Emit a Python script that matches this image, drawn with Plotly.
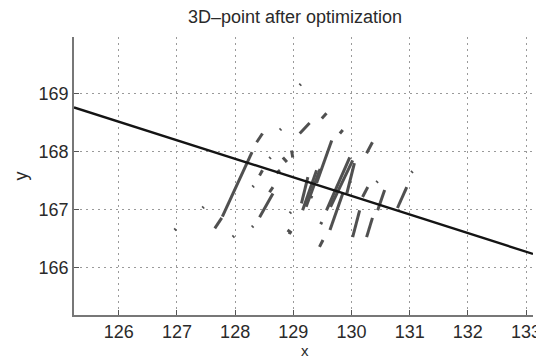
import plotly.graph_objects as go

# Fitted line endpoints
line_x = [125.23, 133.12]
line_y = [168.76, 166.24]

# Point streaks: start / end of each streak of 3D points (x0, y0, x1, y1)
streak_x0 = [126.96, 127.44, 127.65, 127.78, 127.96, 128.37, 128.77, 129.11, 129.49, 129.11,
             128.97, 128.82, 128.59, 129.80, 129.40, 128.42, 128.30, 128.71, 128.59, 128.42,
             129.14, 129.16, 129.22, 129.57, 129.64, 129.63, 129.45, 128.90, 128.29, 128.94,
             130.26, 129.92, 130.02, 130.26, 130.19, 130.43, 130.45, 130.79, 131.03, 128.93,
             129.47, 129.30]
streak_y0 = [166.65, 167.03, 166.68, 166.88, 166.53, 168.16, 168.37, 168.31, 168.57, 169.14,
             168.02, 167.90, 167.88, 168.31, 167.46, 167.59, 167.39, 167.63, 167.30, 166.87,
             167.11, 166.99, 167.05, 166.99, 167.05, 166.65, 166.36, 166.65, 166.70, 166.94,
             167.97, 167.28, 166.53, 166.53, 167.22, 167.47, 166.99, 167.03, 167.64, 166.58,
             166.75, 167.20]
streak_x1 = [126.98, 127.46, 127.77, 128.29, 127.98, 128.47, 128.79, 129.28, 129.57, 129.13,
             128.99, 128.89, 128.61, 129.85, 129.66, 128.47, 128.32, 128.77, 128.65, 128.65,
             129.25, 129.40, 129.46, 129.97, 130.02, 129.85, 129.51, 128.97, 128.31, 128.96,
             130.36, 130.05, 130.14, 130.36, 130.28, 130.45, 130.57, 130.95, 131.05, 128.95,
             129.49, 129.32]
streak_y1 = [166.67, 167.05, 166.86, 167.99, 166.55, 168.31, 168.39, 168.49, 168.66, 169.16,
             167.90, 167.82, 167.90, 168.37, 168.19, 167.68, 167.41, 167.68, 167.39, 167.28,
             167.56, 167.68, 167.70, 167.90, 167.85, 167.28, 166.48, 166.60, 166.72, 166.96,
             168.16, 167.80, 166.99, 166.86, 167.39, 167.49, 167.34, 167.39, 167.66, 166.62,
             166.79, 167.24]

xs, ys = [], []
for a, b, c, d in zip(streak_x0, streak_y0, streak_x1, streak_y1):
    xs += [a, c, None]
    ys += [b, d, None]

fig = go.Figure()
fig.add_trace(go.Scatter(x=xs, y=ys, mode="lines",
                         line=dict(color="#505050", width=3.0), hoverinfo="skip",
                         showlegend=False))
fig.add_trace(go.Scatter(x=line_x, y=line_y, mode="lines",
                         line=dict(color="#141414", width=2.4), showlegend=False))

font = "Liberation Sans, Arial, sans-serif"
fcol = "#2a2a2a"
axis_common = dict(showline=True, linecolor="#777777", linewidth=1.6,
                   ticks="inside", ticklen=5, tickcolor="#555555", tickwidth=1.2,
                   showgrid=True, gridcolor="#9a9a9a", griddash="2px,4px", gridwidth=1.2,
                   zeroline=False, mirror=False, automargin=False,
                   tickfont=dict(family=font, size=18, color=fcol))

# page has an 8px body margin, so the figure is 8px smaller than the window
fig.update_layout(
    width=536, height=352,
    margin=dict(l=66, r=11, t=29, b=45),
    paper_bgcolor="white", plot_bgcolor="white",
    title=dict(text="3D\u2013point after optimization", x=287/536, xref="container",
               xanchor="center", y=1 - 9/352, yref="container", yanchor="middle",
               automargin=False,
               font=dict(family=font, size=18, color=fcol)),
    xaxis=dict(range=[125.23, 133.12], tickvals=[126, 127, 128, 129, 130, 131, 132, 133],
               **axis_common),
    yaxis=dict(range=[165.19, 169.97], tickvals=[166, 167, 168, 169],
               title=dict(text="y", font=dict(family=font, size=18, color=fcol), standoff=6),
               **axis_common),
)
fig.add_annotation(text="x", xref="paper", yref="paper", x=0.503, y=-0.128,
                   xanchor="center", yanchor="middle", showarrow=False,
                   font=dict(family=font, size=15, color=fcol))

fig.write_html("out.html")
